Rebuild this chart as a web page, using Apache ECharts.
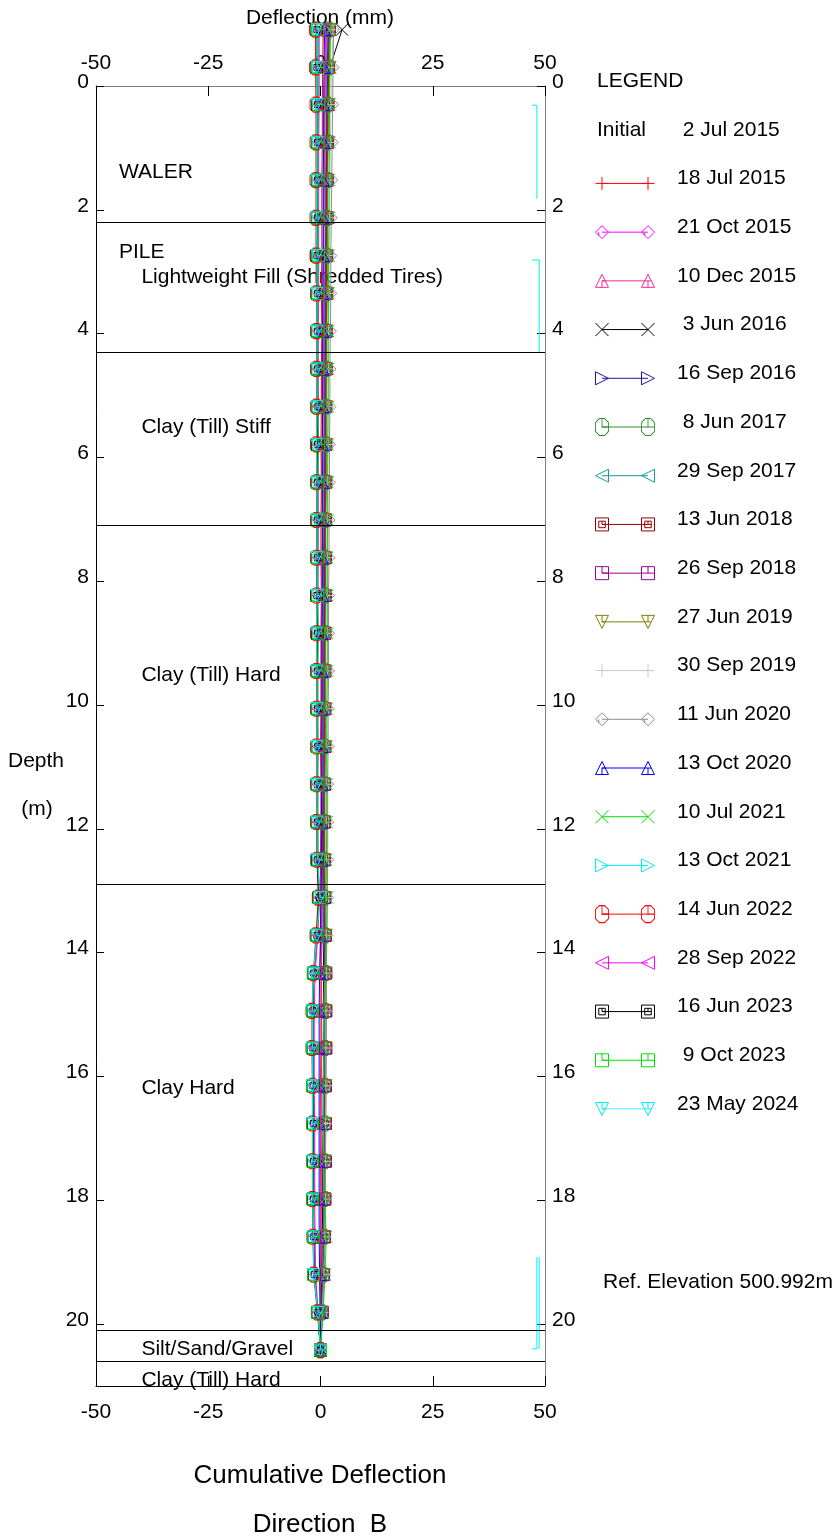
<!DOCTYPE html>
<html><head><meta charset="utf-8">
<script src="https://cdn.jsdelivr.net/npm/echarts@6.0.0/dist/echarts.min.js"></script>
<style>html,body{margin:0;padding:0;background:#fff}#c{width:838px;height:1539px}</style>
</head><body><div id="c"></div><script>
// depth (m) of each reading
const depths = [-0.91,-0.30,0.30,0.91,1.52,2.13,2.74,3.35,3.96,4.57,5.18,5.79,6.40,7.01,7.62,8.23,8.84,9.45,10.06,10.67,11.28,11.89,12.50,13.11,13.72,14.33,14.94,15.54,16.15,16.76,17.37,17.98,18.59,19.20,19.81,20.42];
const initialDate = ' 2 Jul 2015';
const dates = ['18 Jul 2015','21 Oct 2015','10 Dec 2015',' 3 Jun 2016','16 Sep 2016',' 8 Jun 2017','29 Sep 2017','13 Jun 2018','26 Sep 2018','27 Jun 2019','30 Sep 2019','11 Jun 2020','13 Oct 2020','10 Jul 2021','13 Oct 2021','14 Jun 2022','28 Sep 2022','16 Jun 2023',' 9 Oct 2023','23 May 2024'];
// cumulative deflection (mm), one array per reading date
const s01 = [0.6,0.5,0.4,0.4,0.3,0.3,0.3,0.2,0.3,0.2,0.2,0.1,0.2,0.1,0.1,0.2,0.1,0.1,0.1,0.0,0.1,0.1,0.0,0.1,0.0,0.1,0.1,0.1,0.0,0.1,0.0,0.1,0.0,0.0,0.0,0.0];
const s02 = [1.2,1.0,0.9,0.8,0.8,0.7,0.6,0.6,0.5,0.6,0.5,0.4,0.4,0.5,0.4,0.3,0.3,0.4,0.3,0.3,0.2,0.2,0.2,0.3,0.3,0.2,0.2,0.3,0.1,0.1,0.2,0.1,0.1,0.1,0.0,0.0];
const s03 = [1.4,1.1,1.0,0.9,0.9,0.8,0.7,0.8,0.6,0.6,0.6,0.5,0.5,0.5,0.4,0.4,0.5,0.4,0.3,0.3,0.3,0.4,0.3,0.3,0.2,0.2,0.3,0.2,0.2,0.1,0.1,0.2,0.1,0.1,0.0,0.0];
const s04 = [4.8,2.1,1.6,1.4,1.3,1.2,1.1,1.0,1.0,0.9,0.9,0.8,0.8,0.8,0.7,0.7,0.7,0.6,0.6,0.6,0.6,0.5,0.5,0.6,0.6,0.7,0.7,0.7,0.6,0.6,0.5,0.5,0.4,0.3,0.2,0.0];
const s05 = [1.8,1.6,1.5,1.4,1.3,1.2,1.2,1.1,1.1,1.0,1.0,1.0,0.9,0.9,0.9,0.9,0.8,0.8,0.8,0.8,0.7,0.7,0.7,0.8,0.9,1.0,1.0,1.0,0.9,0.9,0.9,0.8,0.7,0.5,0.3,0.0];
const s06 = [1.9,1.8,1.6,1.5,1.5,1.4,1.3,1.3,1.2,1.2,1.1,1.1,1.1,1.0,1.0,1.0,1.0,0.9,0.9,0.9,0.9,0.8,0.8,0.9,1.0,1.1,1.1,1.0,1.0,1.0,0.9,0.9,0.8,0.6,0.3,0.0];
const s07 = [1.5,1.3,1.2,1.2,1.1,1.1,1.0,1.0,0.9,0.9,0.9,0.8,0.8,0.8,0.8,0.7,0.7,0.7,0.7,0.6,0.6,0.6,0.6,0.7,0.8,0.9,0.9,0.9,0.8,0.8,0.8,0.7,0.6,0.5,0.3,0.0];
const s08 = [2.0,1.8,1.7,1.6,1.5,1.5,1.4,1.4,1.3,1.3,1.2,1.2,1.2,1.1,1.1,1.1,1.0,1.0,1.0,1.0,0.9,0.9,0.9,1.0,1.1,1.2,1.2,1.2,1.1,1.1,1.1,1.0,0.9,0.7,0.4,0.0];
const s09 = [1.7,1.5,1.4,1.3,1.3,1.2,1.2,1.1,1.1,1.0,1.0,1.0,0.9,0.9,0.9,0.9,0.8,0.8,0.8,0.8,0.8,0.7,0.7,0.8,0.9,1.0,1.1,1.1,1.0,1.0,1.0,0.9,0.8,0.6,0.3,0.0];
const s10 = [2.2,2.0,1.8,1.7,1.6,1.6,1.5,1.5,1.4,1.4,1.3,1.3,1.3,1.2,1.2,1.2,1.1,1.1,1.1,1.1,1.0,1.0,1.0,1.1,1.2,1.2,1.2,1.2,1.2,1.1,1.1,1.0,0.9,0.7,0.4,0.0];
const s11 = [2.8,2.5,2.3,2.2,2.1,2.0,1.9,1.9,1.8,1.8,1.7,1.7,1.6,1.6,1.6,1.5,1.5,1.5,1.4,1.4,1.4,1.3,1.3,1.3,1.3,1.3,1.2,1.2,1.2,1.1,1.1,1.1,1.0,0.8,0.4,0.0];
const s12 = [2.9,2.8,2.7,2.6,2.5,2.4,2.3,2.3,2.2,2.1,2.1,2.0,2.0,1.9,1.9,1.8,1.8,1.8,1.7,1.7,1.6,1.6,1.6,1.5,1.4,1.3,1.3,1.2,1.2,1.2,1.1,1.1,1.0,0.8,0.4,0.0];
const s13 = [0.9,0.8,0.7,0.7,0.6,0.6,0.6,0.5,0.5,0.5,0.5,0.4,0.4,0.4,0.4,0.4,0.3,0.3,0.3,0.3,0.3,0.2,0.2,0.1,0.0,-0.2,-0.3,-0.3,-0.3,-0.3,-0.3,-0.3,-0.3,-0.2,-0.1,0.0];
const s14 = [2.2,2.1,2.0,2.0,1.9,1.9,1.8,1.8,1.7,1.7,1.7,1.6,1.6,1.6,1.5,1.5,1.5,1.5,1.4,1.4,1.4,1.4,1.3,1.5,1.4,1.0,0.7,0.6,0.7,0.6,0.7,0.9,1.3,1.0,0.6,0.0];
const s15 = [-0.4,-0.5,-0.5,-0.5,-0.5,-0.6,-0.6,-0.6,-0.6,-0.6,-0.7,-0.7,-0.7,-0.7,-0.7,-0.7,-0.7,-0.8,-0.8,-0.8,-0.8,-0.8,-0.8,-0.4,-0.8,-1.4,-1.6,-1.6,-1.5,-1.5,-1.5,-1.5,-1.4,-1.3,-0.6,0.0];
const s16 = [-1.1,-1.1,-1.0,-1.0,-1.0,-1.0,-1.0,-0.9,-0.9,-0.9,-0.9,-0.9,-0.9,-0.9,-0.9,-0.9,-0.9,-0.9,-0.9,-0.9,-0.9,-0.9,-0.8,-0.5,-1.0,-1.6,-1.9,-1.9,-1.8,-1.8,-1.8,-1.8,-1.7,-1.5,-0.7,0.0];
const s17 = [-0.3,-0.3,-0.3,-0.4,-0.4,-0.4,-0.4,-0.4,-0.5,-0.5,-0.5,-0.5,-0.5,-0.5,-0.5,-0.6,-0.6,-0.6,-0.6,-0.6,-0.6,-0.6,-0.6,-0.2,-0.6,-1.2,-1.4,-1.4,-1.4,-1.3,-1.3,-1.3,-1.2,-1.1,-0.5,0.0];
const s18 = [-0.8,-0.8,-0.7,-0.7,-0.7,-0.7,-0.8,-0.7,-0.7,-0.7,-0.6,-0.7,-0.7,-0.7,-0.7,-0.8,-0.7,-0.7,-0.7,-0.6,-0.7,-0.7,-0.7,-0.3,-0.8,-1.5,-1.7,-1.7,-1.7,-1.6,-1.6,-1.6,-1.5,-1.4,-0.6,0.0];
const s19 = [-0.6,-0.6,-0.5,-0.6,-0.6,-0.6,-0.5,-0.6,-0.6,-0.6,-0.6,-0.5,-0.6,-0.6,-0.6,-0.6,-0.5,-0.6,-0.6,-0.6,-0.6,-0.6,-0.5,-0.2,-0.8,-1.6,-1.8,-1.8,-1.8,-1.7,-1.7,-1.7,-1.6,-1.5,-0.6,0.0];
const s20 = [-0.8,-0.8,-0.8,-0.8,-0.8,-0.9,-0.8,-0.8,-0.8,-0.8,-0.8,-0.9,-0.8,-0.8,-0.8,-0.8,-0.9,-0.8,-0.8,-0.8,-0.8,-0.8,-0.7,-0.1,-0.8,-1.6,-1.8,-1.8,-1.8,-1.8,-1.8,-1.7,-1.6,-1.5,-0.5,0.0];
const seriesValues = [s01,s02,s03,s04,s05,s06,s07,s08,s09,s10,s11,s12,s13,s14,s15,s16,s17,s18,s19,s20];
// soil layers
const layerBounds = [2.20, 4.30, 7.09, 12.89, 20.10, 20.60];
const layerNames = ['WALER','PILE','Lightweight Fill (Shredded Tires)','Clay (Till) Stiff','Clay (Till) Hard','Clay Hard','Silt/Sand/Gravel','Clay (Till) Hard'];
const layerLabelDepths = [1.39, 2.68, 3.09, 5.51, 9.52, 16.19, 20.40, 20.91];
const layerLabelX = [-45, -45, -40, -40, -40, -40, -40, -40];
// bracket spans at right (depth from, to)
const bracketSpans = [[0.31,1.82],[2.81,4.31],[18.92,20.40]];

const FONT = 'Liberation Sans, Arial, sans-serif';
const colors = ['#ff0000','#ff00ff','#ff2a90','#000000','#1a1a99','#2e8b2e','#1a9a9a','#990000','#990099','#808000','#c8c8c8','#8c8c8c','#0000ff','#00e000','#00f0f0','#ff0000','#ff00ff','#000000','#00e000','#00f0f0'];
const P = {
  plus: 'path://M5,0V10M0,5H10',
  cross: 'path://M0,0L10,10M10,0L0,10',
  diamond: 'path://M5,0L10,5L5,10L0,5ZM2.5,5V7.5',
  triUp: 'path://M5,0L10,10L0,10ZM5,5V10M5,5H7.5',
  triRight: 'path://M0,0L10,5L0,10Z',
  octagon: 'path://M3,0H7L10,3V10L7,13H3L0,10V3ZM5,0V6.5H10',
  triLeft: 'path://M10,0L0,5L10,10Z',
  dsquare: 'path://M0,0H10V10H0ZM2.5,2.5H7.5V7.5H2.5ZM5,2.5V5H7.5',
  square: 'path://M0,0H10V10H0ZM5,0V5H10',
  triDown: 'path://M0,0H10L5,10ZM5,0V5H7.5'
};
const symbolCycle = ['plus','diamond','triUp','cross','triRight','octagon','triLeft','dsquare','square','triDown'];

const legendLeft = ['LEGEND','Initial'];
const legendRows = ['', initialDate].concat(dates);

const series = [];
seriesValues.forEach((vals, i) => {
  const sym = symbolCycle[i % 10];
  const isOct = sym === 'octagon';
  const common = {
    type: 'line',
    symbol: P[sym],
    lineStyle: {color: colors[i], width: 1},
    itemStyle: {color: 'rgba(0,0,0,0)', borderColor: colors[i], borderWidth: 1},
    emphasis: {disabled: true},
    animation: false,
    silent: true,
    clip: false
  };
  series.push(Object.assign({}, common, {
    name: dates[i], xAxisIndex: 0, yAxisIndex: 0,
    symbolSize: isOct ? [12, 15] : 12,
    data: vals.map((v, k) => [v, depths[k]])
  }));
  series.push(Object.assign({}, common, {
    name: 'lg' + i, xAxisIndex: 2, yAxisIndex: 3,
    symbolSize: isOct ? [13, 17] : 13,
    data: [[0, i + 2], [1, i + 2]]
  }));
});

// layer boundaries
series.push({
  type: 'line', xAxisIndex: 0, yAxisIndex: 0, data: [], silent: true, animation: false,
  markLine: {symbol: 'none', silent: true, animation: false, label: {show: false},
    lineStyle: {color: '#000', type: 'solid', width: 1},
    emphasis: {disabled: true},
    data: layerBounds.map(d => ({yAxis: d}))}
});
// layer labels
series.push({
  type: 'scatter', xAxisIndex: 0, yAxisIndex: 0, symbolSize: 1, silent: true, animation: false,
  itemStyle: {color: 'rgba(0,0,0,0)', opacity: 1},
  label: {show: true, position: 'right', distance: 0, color: '#000', opacity: 1, fontSize: 21, fontFamily: FONT,
    formatter: p => p.data[2]},
  data: layerNames.map((n, i) => [layerLabelX[i], layerLabelDepths[i], n])
});
// brackets
const bracketLines = [
  [[47.1, bracketSpans[0][0]], [48.2, bracketSpans[0][0]], [48.2, bracketSpans[0][1]]],
  [[47.1, bracketSpans[1][0]], [48.7, bracketSpans[1][0]], [48.7, bracketSpans[1][1]]],
  [[48.2, bracketSpans[2][0]], [48.2, bracketSpans[2][1]], [47.1, bracketSpans[2][1]]],
  [[48.7, bracketSpans[2][0]], [48.7, bracketSpans[2][1]]]
];
bracketLines.forEach(b => series.push({
  type: 'line', xAxisIndex: 0, yAxisIndex: 0, symbol: 'none', silent: true, animation: false,
  lineStyle: {color: '#00f0f0', width: 1}, data: b
}));

const tickLabel = {fontSize: 21, color: '#000', fontFamily: FONT};
const chart = echarts.init(document.getElementById('c'), null, {renderer: 'canvas'});
chart.setOption({
  backgroundColor: '#fff',
  animation: false,
  grid: [
    {left: 96, top: 86, width: 449, height: 1300, containLabel: false, outerBoundsMode: 'none'},
    {left: 602, top: 86, width: 46, height: 1023, containLabel: false, outerBoundsMode: 'none'}
  ],
  xAxis: [
    {type: 'value', gridIndex: 0, position: 'bottom', min: -50, max: 50, interval: 25,
      axisLine: {show: true, onZero: false, lineStyle: {color: '#000', width: 1}},
      axisTick: {show: true, inside: true, length: 10, lineStyle: {color: '#000'}},
      axisLabel: Object.assign({margin: 16}, tickLabel), splitLine: {show: false}},
    {type: 'value', gridIndex: 0, position: 'top', min: -50, max: 50, interval: 25,
      axisLine: {show: true, onZero: false, lineStyle: {color: '#808080', width: 1}},
      axisTick: {show: true, inside: true, length: 10, lineStyle: {color: '#000'}},
      axisLabel: Object.assign({margin: 12}, tickLabel), splitLine: {show: false}},
    {type: 'value', gridIndex: 1, min: 0, max: 1, show: false}
  ],
  yAxis: [
    {type: 'value', gridIndex: 0, position: 'left', inverse: true, min: 0, max: 21, interval: 2,
      axisLine: {show: true, onZero: false, lineStyle: {color: '#000', width: 1}},
      axisTick: {show: true, inside: true, length: 8, lineStyle: {color: '#000'}},
      axisLabel: Object.assign({margin: 7, showMaxLabel: false, verticalAlign: 'bottom', lineHeight: 8}, tickLabel),
      splitLine: {show: false}},
    {type: 'value', gridIndex: 0, position: 'right', inverse: true, min: 0, max: 21, interval: 2,
      axisLine: {show: true, onZero: false, lineStyle: {color: '#808080', width: 1}},
      axisTick: {show: true, inside: true, length: 8, lineStyle: {color: '#000'}},
      axisLabel: Object.assign({margin: 7, showMaxLabel: false, verticalAlign: 'bottom', lineHeight: 8}, tickLabel),
      splitLine: {show: false}},
    {type: 'category', gridIndex: 1, position: 'left', inverse: true, boundaryGap: false, data: legendRows,
      axisLine: {show: false}, axisTick: {show: false}, splitLine: {show: false},
      axisLabel: Object.assign({margin: 5, align: 'left', interval: 0, verticalAlign: 'bottom', lineHeight: 10,
        formatter: (v, i) => legendLeft[i] || ''}, tickLabel)},
    {type: 'category', gridIndex: 1, position: 'right', inverse: true, boundaryGap: false, data: legendRows,
      axisLine: {show: false}, axisTick: {show: false}, splitLine: {show: false},
      axisLabel: Object.assign({margin: 29, align: 'left', interval: 0, verticalAlign: 'bottom', lineHeight: 10}, tickLabel)}
  ],
  graphic: [
    {type: 'text', x: 320, y: 18, silent: true, style: {text: 'Deflection (mm)', font: '21px ' + FONT, fill: '#000', align: 'center', verticalAlign: 'middle'}},
    {type: 'text', x: 36, y: 761, silent: true, style: {text: 'Depth', font: '21px ' + FONT, fill: '#000', align: 'center', verticalAlign: 'middle'}},
    {type: 'text', x: 37, y: 809, silent: true, style: {text: '(m)', font: '21px ' + FONT, fill: '#000', align: 'center', verticalAlign: 'middle'}},
    {type: 'text', x: 320, y: 1476, silent: true, style: {text: 'Cumulative Deflection', font: '26px ' + FONT, fill: '#000', align: 'center', verticalAlign: 'middle'}},
    {type: 'text', x: 320, y: 1525, silent: true, style: {text: 'Direction  B', font: '26px ' + FONT, fill: '#000', align: 'center', verticalAlign: 'middle'}},
    {type: 'text', x: 603, y: 1282, silent: true, style: {text: 'Ref. Elevation 500.992m', font: '21px ' + FONT, fill: '#000', align: 'left', verticalAlign: 'middle'}}
  ],
  series: series
});
</script></body></html>
